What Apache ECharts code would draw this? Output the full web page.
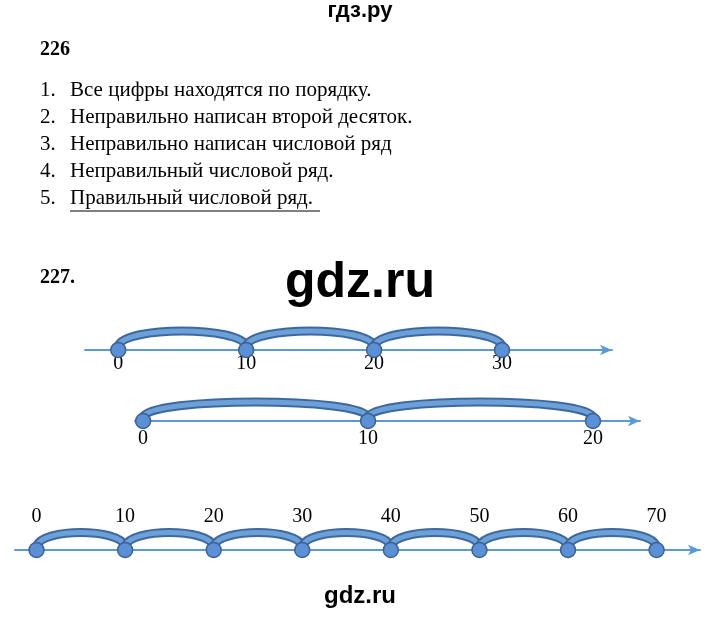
<!DOCTYPE html>
<html><head><meta charset="utf-8">
<script src="https://cdn.jsdelivr.net/npm/echarts@6/dist/echarts.min.js"></script>
<style>html,body{margin:0;padding:0;background:#fff}#c{width:720px;height:617px}</style>
</head><body><div id="c"></div>
<script>
const header = 'гдз.ру';
const task226 = '226';
const items226 = ['Все цифры находятся по порядку.','Неправильно написан второй десяток.','Неправильно написан числовой ряд','Неправильный числовой ряд.','Правильный числовой ряд.'];
const task227 = '227.';
const line1Values = [0, 10, 20, 30];
const line2Values = [0, 10, 20];
const line3Values = [0, 10, 20, 30, 40, 50, 60, 70];

const chart = echarts.init(document.getElementById('c'));
const serif = 'Liberation Serif';
const axisBlue = '#5b9bd5';

function axisX(gi, min, max, vals, pos, margin) {
  return {
    type: 'value', gridIndex: gi, min: min, max: max, position: pos,
    splitLine: {show: false}, axisTick: {show: false},
    axisLine: {show: true, lineStyle: {color: axisBlue, width: 2}, symbol: ['none', 'arrow'], symbolSize: [8, 12]},
    axisLabel: {customValues: vals, color: '#000', fontFamily: serif, fontSize: 20, margin: margin}
  };
}
function axisY(gi) { return {type: 'value', gridIndex: gi, min: 0, max: 1, show: false}; }

function arcs(gi, vals, lift) {
  return {
    type: 'custom', xAxisIndex: gi, yAxisIndex: gi, data: vals.slice(0, -1).map((v, i) => [v, vals[i + 1]]),
    renderItem: function (params, api) {
      const a = api.coord([api.value(0), 0]);
      const b = api.coord([api.value(1), 0]);
      const path = 'M' + a[0] + ' ' + (a[1] - 4) + ' C' + (a[0] + 6) + ' ' + (a[1] - lift) + ' ' + (b[0] - 6) + ' ' + (a[1] - lift) + ' ' + b[0] + ' ' + (b[1] - 4);
      return {type: 'group', children: [
        {type: 'path', shape: {pathData: path}, style: {fill: null, stroke: '#3d6a9e', lineWidth: 9}},
        {type: 'path', shape: {pathData: path}, style: {fill: null, stroke: '#6d9fd9', lineWidth: 5}}
      ]};
    }, z: 3
  };
}
function dots(gi, vals) {
  return {type: 'scatter', xAxisIndex: gi, yAxisIndex: gi, data: vals.map(v => [v, 0]), symbolSize: 15,
    itemStyle: {color: '#5b8fd6', borderColor: '#3d6090', borderWidth: 1.5, opacity: 1}, z: 5, silent: true};
}

const textEls = [
  {type: 'text', left: 'center', top: 0, style: {text: header, font: 'bold 22px Liberation Sans', fill: '#000'}},
  {type: 'text', left: 40, top: 40, style: {text: task226, font: 'bold 20px ' + serif, fill: '#000'}},
  {type: 'text', left: 40, top: 268, style: {text: task227, font: 'bold 20px ' + serif, fill: '#000'}},
  {type: 'text', left: 'center', top: 258, style: {text: 'gdz.ru', font: 'bold 50px Liberation Sans', fill: '#000'}},
  {type: 'text', left: 'center', top: 584, style: {text: 'gdz.ru', font: 'bold 24px Liberation Sans', fill: '#000'}},
  {type: 'line', shape: {x1: 70, y1: 211, x2: 320, y2: 211}, style: {stroke: '#000', lineWidth: 1}}
];
items226.forEach((t, i) => {
  textEls.push({type: 'text', left: 40, top: 80 + i * 27, style: {text: (i + 1) + '.', font: '21px ' + serif, fill: '#000'}});
  textEls.push({type: 'text', left: 70, top: 80 + i * 27, style: {text: t, font: '21px ' + serif, fill: '#000'}});
});

chart.setOption({
  animation: false,
  grid: [
    {left: 85, width: 527, top: 330, height: 20},
    {left: 135, width: 505, top: 401, height: 20},
    {left: 15, width: 685, top: 549, height: 1}
  ],
  xAxis: [
    axisX(0, -2.6, 38.6, line1Values, 'bottom', 4),
    axisX(1, -0.36, 22.09, line2Values, 'bottom', 8),
    axisX(2, -2.43, 74.9, line3Values, 'top', 22)
  ],
  yAxis: [axisY(0), axisY(1), axisY(2)],
  series: [
    arcs(0, line1Values, 24), dots(0, line1Values),
    arcs(1, line2Values, 24), dots(1, line2Values),
    arcs(2, line3Values, 22), dots(2, line3Values)
  ],
  graphic: textEls
});
</script></body></html>
